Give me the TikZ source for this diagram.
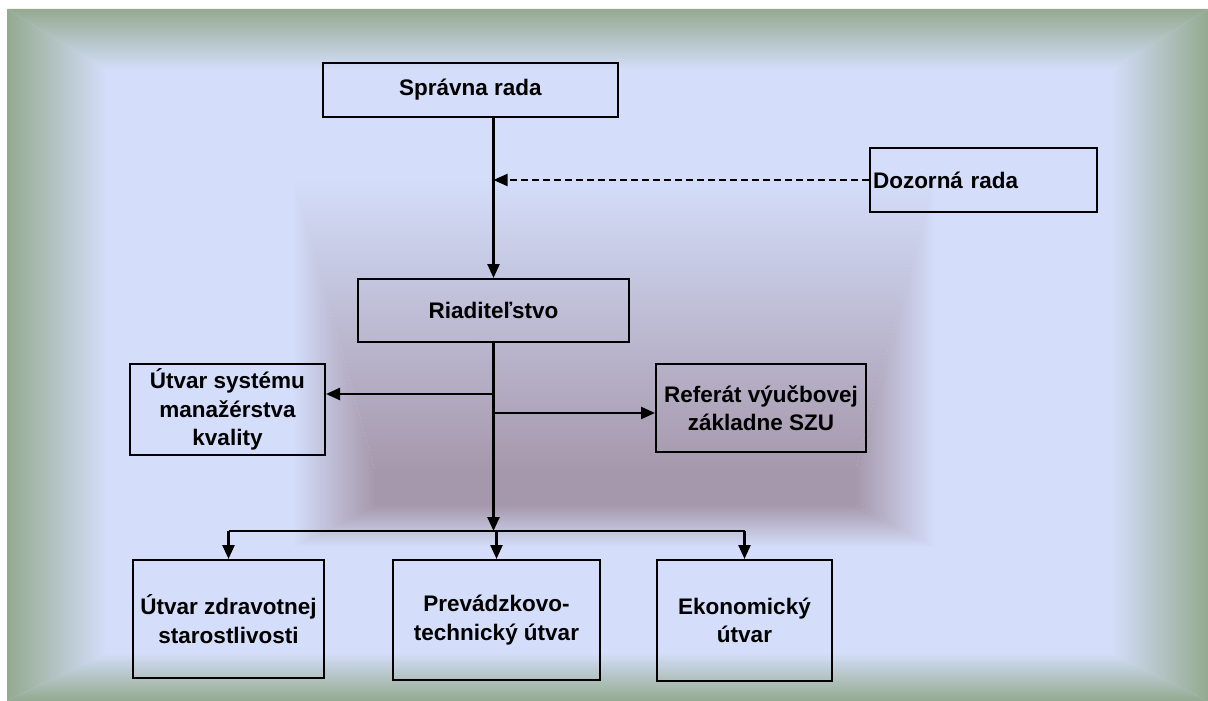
\documentclass[tikz,border=0pt]{standalone}
\usepackage{fontspec}
\setmainfont{Liberation Sans}
\usepackage{tikz}
\usetikzlibrary{calc,positioning,arrows.meta}

\definecolor{framegreen}{RGB}{148,170,144}
\definecolor{paleblue}{RGB}{212,222,250}
\definecolor{mauvedark}{RGB}{166,152,172}

\tikzset{
  unitbox/.style={draw, line width=2pt, rectangle, inner sep=3pt, align=center,
    font=\bfseries\fontsize{22.5}{28.5}\selectfont},
  link/.style={line width=2.4pt, -{Triangle[length=14pt,width=12pt]}},
  dashlink/.style={link, line width=2pt, dash pattern=on 7pt off 4pt}
}

\begin{document}
\begin{tikzpicture}[x=1pt,y=-1pt]
        \fill[white] (0,0) rectangle (1208,701);
        \useasboundingbox (0,0) rectangle (1208,701);

        \fill[paleblue] (7,9) rectangle (1208,701);
        \shade[top color=framegreen, bottom color=paleblue] (7,9) -- (1208,9) -- (1110,70) -- (107,70) -- cycle;
        \shade[top color=paleblue, bottom color=framegreen] (7,701) -- (1208,701) -- (1110,652) -- (107,652) -- cycle;
        \shade[left color=framegreen, right color=paleblue] (7,9) -- (107,70) -- (107,652) -- (7,701) -- cycle;
        \shade[left color=paleblue, right color=framegreen] (1208,9) -- (1110,70) -- (1110,652) -- (1208,701) -- cycle;

        \shade[top color=paleblue, bottom color=mauvedark] (292,176) -- (935,176) -- (855,470) -- (375,470) -- cycle;
        \shade[top color=mauvedark, bottom color=paleblue] (292,547) -- (935,547) -- (855,505) -- (375,505) -- cycle;
        \shade[left color=paleblue, right color=mauvedark] (292,176) -- (375,470) -- (375,505) -- (292,547) -- cycle;
        \shade[left color=mauvedark, right color=paleblue] (935,176) -- (855,470) -- (855,505) -- (935,547) -- cycle;
        \fill[mauvedark] (375,469.5) rectangle (855,505.5);

        \node[unitbox, minimum width=295, minimum height=54] (sprava) at (470.5,90) {Správna rada};
        \node[unitbox, minimum height=64, text width=221, align=left] (dozor) at (983.5,180) {Dozorná rada};
        \node[unitbox, minimum width=271, minimum height=63] (riad) at (493.5,310.5) {Riaditeľstvo};
        \node[unitbox, minimum width=195, minimum height=91] (kvalita) at (227.5,409.5) {Útvar systému\\manažérstva\\kvality};
        \node[unitbox, minimum width=210, minimum height=88] (referat) at (761,408) {Referát výučbovej\\základne SZU};
        \node[unitbox, minimum width=191, minimum height=118] (zdrav) at (228.5,619) {Útvar zdravotnej\\starostlivosti};
        \node[unitbox, minimum width=207, minimum height=120] (prevadz) at (496.5,620) {Prevádzkovo-\\technický útvar};
        \node[unitbox, minimum width=175, minimum height=121] (ekon) at (744.5,620.5) {Ekonomický\\útvar};

        \coordinate (brL) at (493.5,394);
        \coordinate (brR) at (493.5,413);
        \coordinate (bus) at (493.5,531);

        \draw[link] (riad.north |- sprava.south) -- (riad.north);
        \draw[dashlink] (dozor.west) -- (riad.north |- dozor.west);
        \draw[link] (riad.south) -- (bus);
        \draw[link] (brL) -- (brL -| kvalita.east);
        \draw[link] (brR) -- (brR -| referat.west);
        \draw[line width=2.4pt] (zdrav.north |- bus) -- (ekon.north |- bus);
        \draw[link] (zdrav.north |- bus) -- (zdrav.north);
        \draw[link] (prevadz.north |- bus) -- (prevadz.north);
        \draw[link] (ekon.north |- bus) -- (ekon.north);
    \end{tikzpicture}
\end{document}
